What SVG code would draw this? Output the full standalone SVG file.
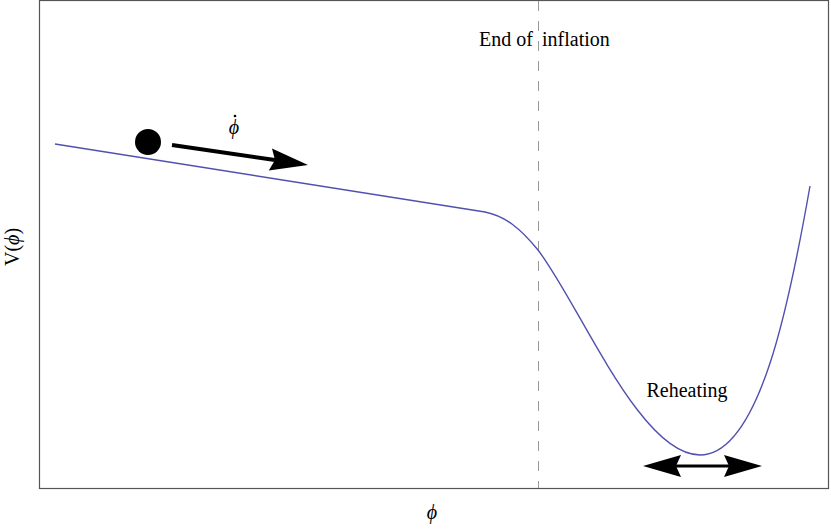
<svg xmlns="http://www.w3.org/2000/svg" width="831" height="530" viewBox="0 0 831 530">
<style>
.t{font-family:"Liberation Serif","Times New Roman",serif;font-size:20px;fill:#000}
.i{font-style:italic}
</style>
<rect width="831" height="530" fill="#fff"/>
<g id="frame">
<rect x="39.5" y="0.5" width="789" height="488" fill="none" stroke="#555" stroke-width="1.2"/>
</g>
<g id="end-line">
<line x1="538.5" y1="1" x2="538.5" y2="488" stroke="#999" stroke-width="1" stroke-dasharray="10,10"/>
<text class="t" x="479" y="46">End of<tspan x="542">inflation</tspan></text>
</g>
<g id="potential">
<path d="M55,144 L485,212 C505,216 520,228 538,250 C580,305 640,455 700,455 C760,455 790,300 810,186" fill="none" stroke="#5050b0" stroke-width="1.4"/>
</g>
<g id="ball">
<circle cx="148" cy="142" r="13" fill="#000"/>
</g>
<g id="connectors">
<line x1="172" y1="145" x2="275" y2="160" stroke="#000" stroke-width="4"/>
<polygon points="308,165 268.8,170.4 275,160 272,148.6" fill="#000"/>
<line x1="670" y1="466" x2="735" y2="466" stroke="#000" stroke-width="3"/>
<polygon points="643,466 681,455 676,466 681,477" fill="#000"/>
<polygon points="762,466 724,455 729,466 724,477" fill="#000"/>
</g>
<g id="labels">
<text class="t i" x="234" y="134" text-anchor="middle" font-size="18">ϕ</text>
<circle cx="235" cy="116" r="1.3" fill="#000"/>
<text class="t" x="687" y="397" text-anchor="middle">Reheating</text>
<text class="t i" x="432" y="519" text-anchor="middle">ϕ</text>
<text class="t" transform="translate(19,247) rotate(-90)" text-anchor="middle">V(<tspan class="i">ϕ</tspan>)</text>
</g>
</svg>
